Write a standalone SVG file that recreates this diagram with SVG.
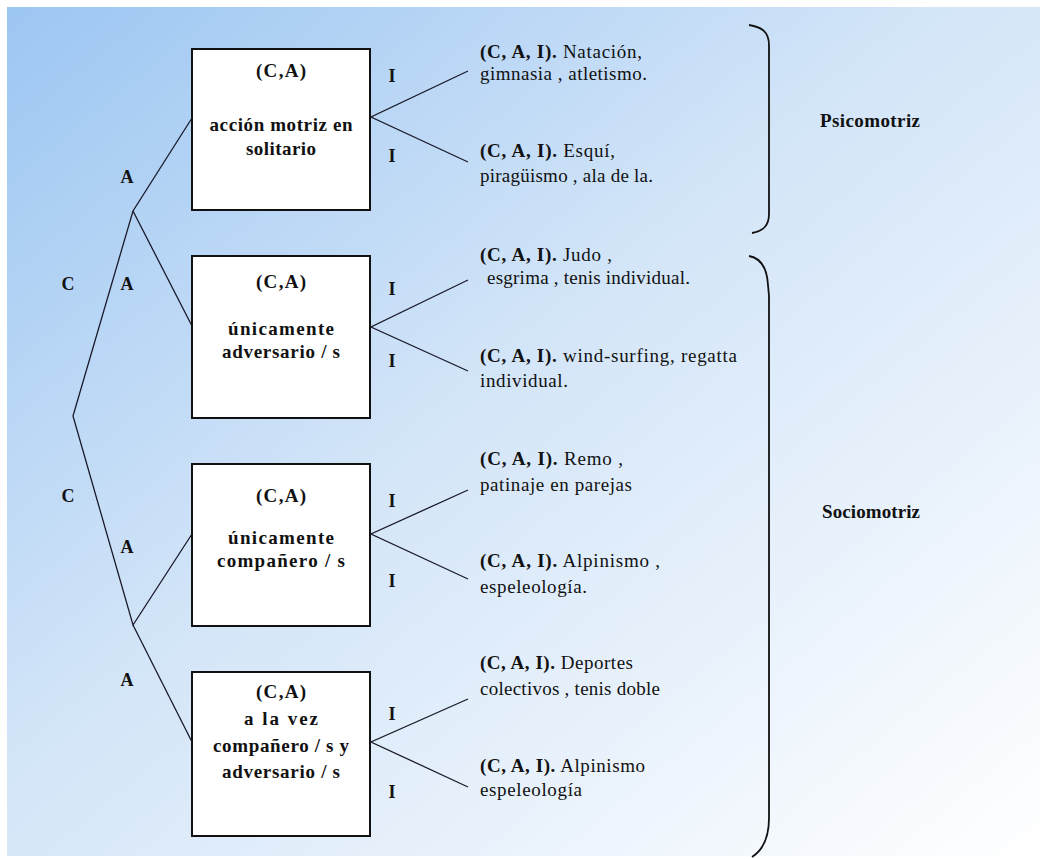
<svg xmlns="http://www.w3.org/2000/svg" width="1040" height="859" viewBox="0 0 1040 859">
  <defs>
    <linearGradient id="bg" x1="0" y1="0" x2="1" y2="1">
      <stop offset="0" stop-color="#9cc6f2"/>
      <stop offset="0.45" stop-color="#d3e5f8"/>
      <stop offset="1" stop-color="#ffffff"/>
    </linearGradient>
  </defs>
  <style>
    text { font-family: "Liberation Serif", "Times New Roman", serif; fill: #111; }
    .box { fill: #ffffff; stroke: #111; stroke-width: 2; }
    .bt { font-size: 19px; font-weight: bold; text-anchor: middle; }
    .lbl { font-size: 18px; font-weight: bold; text-anchor: middle; }
    .leaf { font-size: 19px; }
    .b { font-weight: bold; }
    .ln { fill: none; stroke: #1a1a2a; stroke-width: 1.3; }
    .brace { fill: none; stroke: #111; stroke-width: 1.8; }
    .cat { font-size: 19px; font-weight: bold; }
  </style>
  <rect x="0" y="0" width="1040" height="859" fill="#ffffff"/>
  <rect x="7" y="7" width="1033" height="849" fill="url(#bg)"/>

  <g id="connectors">
    <polyline class="ln" points="192,118 133,211 73,416 133,625 192,534"/>
    <line class="ln" x1="133" y1="211" x2="192" y2="326"/>
    <line class="ln" x1="133" y1="625" x2="192" y2="742"/>
    <polyline class="ln" points="468,71 371,117 468,162"/>
    <polyline class="ln" points="468,280 371,327 468,371"/>
    <polyline class="ln" points="468,490 371,534 468,579"/>
    <polyline class="ln" points="468,699 371,742 468,787"/>
    <g id="edge-labels">
      <text class="lbl" x="127" y="183">A</text>
      <text class="lbl" x="127" y="290">A</text>
      <text class="lbl" x="68" y="290">C</text>
      <text class="lbl" x="68" y="502">C</text>
      <text class="lbl" x="127" y="553">A</text>
      <text class="lbl" x="127" y="686">A</text>
      <text class="lbl" x="392" y="82">I</text>
      <text class="lbl" x="392" y="162">I</text>
      <text class="lbl" x="392" y="295">I</text>
      <text class="lbl" x="392" y="367">I</text>
      <text class="lbl" x="392" y="507">I</text>
      <text class="lbl" x="392" y="587">I</text>
      <text class="lbl" x="392" y="720">I</text>
      <text class="lbl" x="392" y="798">I</text>
    </g>
  </g>

  <g id="box1">
    <rect class="box" x="192" y="49" width="178" height="161"/>
    <text class="bt" x="281" y="77" textLength="50">(C,A)</text>
    <text class="bt" x="281" y="131" textLength="143">acción motriz en</text>
    <text class="bt" x="281" y="155" textLength="70">solitario</text>
  </g>
  <g id="box2">
    <rect class="box" x="192" y="256" width="178" height="162"/>
    <text class="bt" x="281" y="288" textLength="50">(C,A)</text>
    <text class="bt" x="281" y="335" textLength="106">únicamente</text>
    <text class="bt" x="281" y="358" textLength="118">adversario / s</text>
  </g>
  <g id="box3">
    <rect class="box" x="192" y="464" width="178" height="162"/>
    <text class="bt" x="281" y="502" textLength="50">(C,A)</text>
    <text class="bt" x="281" y="544" textLength="106">únicamente</text>
    <text class="bt" x="281" y="567" textLength="128">compañero / s</text>
  </g>
  <g id="box4">
    <rect class="box" x="192" y="672" width="178" height="164"/>
    <text class="bt" x="281" y="698" textLength="50">(C,A)</text>
    <text class="bt" x="281" y="725" textLength="74">a la vez</text>
    <text class="bt" x="281" y="752" textLength="136">compañero / s y</text>
    <text class="bt" x="281" y="778" textLength="118">adversario / s</text>
  </g>

  <g id="leaf1">
    <text class="leaf" x="480" y="58" textLength="162"><tspan class="b">(C, A, I).</tspan> Natación,</text>
    <text class="leaf" x="480" y="80" textLength="167">gimnasia , atletismo.</text>
  </g>
  <g id="leaf2">
    <text class="leaf" x="480" y="157" textLength="135"><tspan class="b">(C, A, I).</tspan> Esquí,</text>
    <text class="leaf" x="480" y="182" textLength="173">piragüismo , ala de la.</text>
  </g>
  <g id="leaf3">
    <text class="leaf" x="480" y="261" textLength="132"><tspan class="b">(C, A,  I).</tspan> Judo ,</text>
    <text class="leaf" x="487" y="284" textLength="203">esgrima , tenis individual.</text>
  </g>
  <g id="leaf4">
    <text class="leaf" x="480" y="362" textLength="257"><tspan class="b">(C, A, I).</tspan> wind-surfing, regatta</text>
    <text class="leaf" x="480" y="387" textLength="88">individual.</text>
  </g>
  <g id="leaf5">
    <text class="leaf" x="480" y="465" textLength="143"><tspan class="b">(C, A, I).</tspan> Remo ,</text>
    <text class="leaf" x="480" y="491" textLength="152">patinaje en parejas</text>
  </g>
  <g id="leaf6">
    <text class="leaf" x="480" y="567" textLength="180"><tspan class="b">(C, A, I).</tspan> Alpinismo ,</text>
    <text class="leaf" x="480" y="593" textLength="107">espeleología.</text>
  </g>
  <g id="leaf7">
    <text class="leaf" x="480" y="669" textLength="153"><tspan class="b">(C, A, I).</tspan> Deportes</text>
    <text class="leaf" x="480" y="695" textLength="180">colectivos , tenis doble</text>
  </g>
  <g id="leaf8">
    <text class="leaf" x="480" y="772" textLength="165"><tspan class="b">(C, A, I).</tspan> Alpinismo</text>
    <text class="leaf" x="480" y="796" textLength="102">espeleología</text>
  </g>

  <g id="psicomotriz">
    <path class="brace" d="M749,25 C762,27 769,32 769,45 L769,214 C769,226 763,231 752,233"/>
    <text class="cat" x="820" y="127" textLength="100">Psicomotriz</text>
  </g>
  <g id="sociomotriz">
    <path class="brace" d="M749,256 C760,258 767,268 768,285 L769,296 L769,818 C769,836 763,850 752,857"/>
    <text class="cat" x="822" y="518" textLength="98">Sociomotriz</text>
  </g>
</svg>
